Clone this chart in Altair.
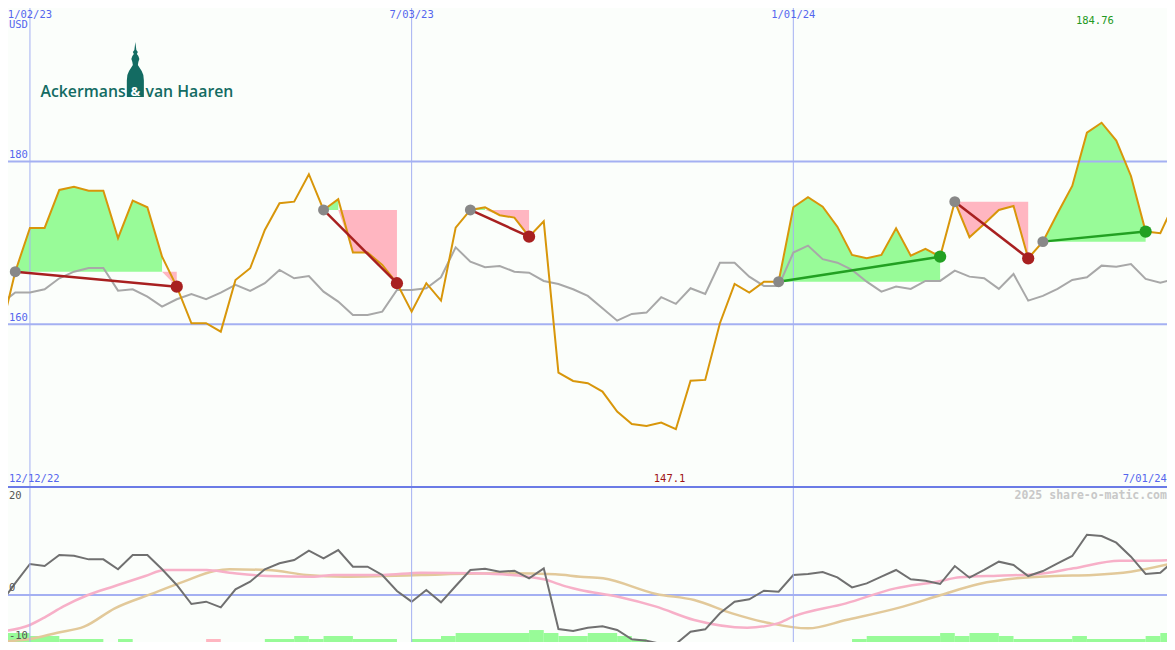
import altair as alt
import pandas as pd

# ---------------- data ----------------
weeks = list(range(-2, 79))  # week 0 = 1/02/23

price = [158.93, 166.46, 171.83, 171.83, 176.50, 176.90, 176.41, 176.41, 170.57, 175.18,
         174.37, 168.30, 164.62, 160.12, 160.12, 159.09, 165.44, 166.88, 171.58, 174.86,
         175.06, 178.43, 174.04, 175.36, 168.80, 168.80, 167.29, 165.04, 161.55, 165.04,
         162.90, 171.87, 174.04, 174.37, 173.40, 173.10, 170.76, 172.65, 154.05, 153.03,
         152.75, 151.72, 149.26, 147.75, 147.50, 147.91, 147.10, 153.07, 153.16, 160.12,
         164.95, 163.88, 165.23, 165.23, 174.37, 175.60, 174.45, 171.99, 168.51, 168.10,
         168.51, 171.79, 168.43, 169.25, 168.30, 175.06, 170.69, 172.32, 174.04, 174.53,
         168.10, 170.15, 173.64, 176.99, 183.54, 184.76, 182.56, 178.22, 171.38, 171.18,
         175.06]

bench = [162.50, 163.90, 163.90, 164.30, 165.65, 166.46, 166.90, 166.90, 164.13, 164.30,
         163.40, 162.16, 163.07, 163.72, 163.07, 163.88, 164.83, 164.09, 165.04, 166.67,
         165.65, 165.93, 164.00, 162.78, 161.14, 161.14, 161.55, 164.21, 164.21, 164.42,
         165.77, 169.45, 167.69, 167.00, 167.16, 166.46, 166.34, 165.32, 164.95, 164.30,
         163.48, 161.97, 160.44, 161.27, 161.43, 163.32, 162.50, 164.42, 163.72, 167.56,
         167.56, 165.85, 164.70, 164.70, 168.80, 169.66, 167.99, 167.56, 166.67, 165.23,
         164.00, 164.62, 164.34, 165.32, 165.32, 166.59, 165.85, 165.65, 164.34, 166.18,
         162.90, 163.48, 164.34, 165.44, 165.77, 167.20, 167.07, 167.40, 165.57, 165.11,
         165.57]

osc = [-1.51, 2.15, 5.64, 5.27, 7.27, 7.15, 6.48, 6.48, 4.67, 7.27,
       7.27, 4.67, 1.82, -1.64, -1.21, -2.24, 1.03, 2.42, 4.67, 5.76,
       6.36, 8.06, 6.67, 8.18, 5.15, 5.15, 3.64, 0.73, -1.21, 0.91,
       -1.33, 1.64, 4.55, 4.79, 4.24, 4.42, 3.03, 4.85, -6.18, -6.55,
       -5.94, -5.70, -6.36, -8.06, -8.30, -8.91, -8.91, -6.67, -6.24, -3.33,
       -1.21, -0.79, 0.79, 0.61, 3.64, 3.82, 4.18, 3.21, 1.39, 2.12,
       3.33, 4.55, 2.85, 2.61, 2.00, 5.27, 3.15, 4.55, 6.06, 5.45,
       3.45, 4.36, 5.76, 7.09, 10.97, 10.73, 9.52, 6.97, 3.82, 4.06,
       6.36]

pink_w = [-2.04, 0, 1.09, 2.25, 3.95, 5.79, 7.86, 9.17, 12.04, 13.6, 16.2, 19.34, 20.65,
          24.04, 26.65, 30.3, 33.94, 35.0, 36.56, 37.48, 40.07, 42.66, 45.25, 48.86,
          50.93, 51.97, 55.59, 58.95, 61.79, 63.35, 65.94, 68.52, 71.08, 74.22, 76.26, 78.0]
pink_v = [-6.67, -5.45, -3.94, -2.12, 0.0, 1.64, 3.45, 4.55, 4.55, 4.06, 3.45, 3.33, 3.64,
          3.64, 4.06, 3.94, 3.33, 2.85, 1.52, 0.91, -0.30, -2.12, -4.55, -5.94,
          -5.15, -3.94, -1.52, 1.21, 2.42, 3.21, 3.52, 3.76, 4.85, 6.24, 6.24, 6.36]

tan_w = [-2.04, 0, 1.87, 3.69, 5.78, 8.38, 10.47, 12.56, 13.6, 16.22, 18.82, 21.43, 24.04,
         26.65, 31.86, 35.78, 37.48, 39.04, 42.66, 45.25, 47.83, 50.42, 53.0, 55.59,
         59.47, 62.05, 64.64, 67.23, 69.82, 72.4, 74.99, 78.0]
tan_v = [-8.48, -8.0, -6.85, -5.76, -2.42, 0.30, 2.42, 4.36, 4.67, 4.55, 3.64, 3.33, 3.45,
         3.64, 3.94, 3.76, 3.33, 3.03, 0.18, -0.91, -3.33, -5.15, -6.06, -4.55,
         -2.12, 0.0, 2.0, 3.03, 3.45, 3.64, 4.24, 5.88]

trade_start = [-1, 20, 30, 51, 63, 69]
trade_end = [10, 25, 34, 62, 68, 76]

bar_start = [-2.04, 0, 2, 6, 12, 16, 18, 19, 20, 22, 26, 28, 29, 34, 35, 36, 38, 40, 41,
             56, 57, 62, 63, 64, 66, 67, 71, 72, 76, 77]
bar_end = [0, 2, 5, 7, 13, 18, 19, 20, 22, 25, 28, 29, 34, 35, 36, 38, 40, 41, 42,
           57, 62, 63, 64, 66, 67, 71, 72, 76, 77, 78]
bar_level = [3, 2, 1, 1, 1, 1, 2, 1, 2, 1, 1, 2, 3, 4, 3, 2, 3, 2, 1,
             1, 2, 3, 2, 3, 2, 1, 2, 1, 2, 3]
bar_kind = ["up"] * 4 + ["down"] + ["up"] * 25

grid_weeks = [0, 26, 52]
date_labels = ["1/02/23", "7/03/23", "1/01/24"]
price_grid = [160, 180]

# ---------------- styling ----------------
BG = "#fbfefb"
GRID = "#a4b0f2"
SEP = "#6b7be6"
BLUE_TXT = "#5566ee"
ORANGE = "#d8960a"
GREY = "#a8a8a8"
UP_FILL = "#98fb98"
DOWN_FILL = "#ffb6c1"
TEAL = "#136b62"
MONO = "DejaVu Sans Mono"

W, H, SPLIT = 1175, 650, 487
xs = alt.Scale(domain=[-2.04, 78.0], nice=False, zero=False)
ys_top = alt.Scale(domain=[140.0, 199.84], range=[SPLIT, 0], nice=False, zero=False)
ys_bot = alt.Scale(domain=[-10.0, 19.64], range=[H, SPLIT], nice=False, zero=False)


def X(f):
    return alt.X(f, type="quantitative", scale=xs, axis=None)


def YT(f):
    return alt.Y(f, type="quantitative", scale=ys_top, axis=None)


def YB(f):
    return alt.Y(f, type="quantitative", scale=ys_bot, axis=None)


# ---------------- tables ----------------
series = pd.DataFrame({"w": weeks, "price": price, "bench": bench, "osc": osc})
pmap = dict(zip(weeks, price))

up_rows, down_rows, tl_rows, start_rows, end_rows = [], [], [], [], []
for t, (s, e) in enumerate(zip(trade_start, trade_end)):
    entry = pmap[s]
    win = pmap[e] >= entry
    col = "#22a022" if win else "#a82020"
    for w in range(s, e + 1):
        p = pmap[w]
        down_rows.append({"t": t, "w": w, "v": min(p, entry), "e": entry})
        if p >= entry:
            up_rows.append({"t": t, "w": w, "v": p, "e": entry})
    tl_rows.append({"t": t, "w": s, "v": entry, "c": col})
    tl_rows.append({"t": t, "w": e, "v": pmap[e], "c": col})
    start_rows.append({"w": s, "v": entry})
    end_rows.append({"w": e, "v": pmap[e], "c": col})

up_df = pd.DataFrame(up_rows)
down_df = pd.DataFrame(down_rows)
tl_df = pd.DataFrame(tl_rows)
start_df = pd.DataFrame(start_rows)
end_df = pd.DataFrame(end_rows)

pink_df = pd.DataFrame({"w": pink_w, "v": pink_v})
tan_df = pd.DataFrame({"w": tan_w, "v": tan_v})
BAR_STEP = 3 / 5.5
BAR_BASE = -8.55  # lowest value still inside the visible page area
bars_df = pd.DataFrame({
    "a": bar_start, "b": bar_end,
    "lo": [BAR_BASE] * len(bar_start),
    "hi": [BAR_BASE + l * BAR_STEP for l in bar_level],
    "c": [UP_FILL if k == "up" else DOWN_FILL for k in bar_kind],
})

vgrid_df = pd.DataFrame({"w": grid_weeks})
hgrid_df = pd.DataFrame({"v": price_grid})

# annotation positions (data coordinates)
dates_df = pd.DataFrame({"w": grid_weeks, "v": [198.67] * 3, "t": date_labels})
top_left_df = pd.DataFrame({"w": [-1.43], "v": [196.77], "t": ["USD"]})
grid_lbl_df = pd.DataFrame({"w": [-1.43, -1.43], "v": [180.15, 160.15], "t": ["180", "160"]})
bottom_dates_l = pd.DataFrame({"w": [-1.43], "v": [140.98], "t": ["12/12/22"]})
bottom_dates_r = pd.DataFrame({"w": [77.45], "v": [140.98], "t": ["7/01/24"]})
max_df = pd.DataFrame({"w": [72.54], "v": [197.26], "t": ["184.76"]})
min_df = pd.DataFrame({"w": [43.57], "v": [140.98], "t": ["147.1"]})

logo_l = pd.DataFrame({"w": [6.52], "v": [187.92], "t": ["Ackermans"]})
logo_amp = pd.DataFrame({"w": [7.18], "v": [188.05], "t": ["&"]})
logo_r = pd.DataFrame({"w": [7.87], "v": [187.92], "t": ["van Haaren"]})
tower_df = pd.DataFrame({"w": [7.18], "v": [191.3]})
TOWER = ("M0,-1 L0.036,-0.709 L0.091,-0.636 L0.055,-0.564 L0.109,-0.491 L0.145,-0.382 "
         "L0.109,-0.273 L0.091,-0.164 L0.16,-0.055 L0.23,0.055 L0.29,0.2 L0.31,0.4 L0.31,1 "
         "L-0.31,1 L-0.31,0.4 L-0.29,0.2 L-0.23,0.055 L-0.16,-0.055 L-0.091,-0.164 L-0.109,-0.273 "
         "L-0.145,-0.382 L-0.109,-0.491 L-0.055,-0.564 L-0.091,-0.636 L-0.036,-0.709 Z")

osc_lbl_df = pd.DataFrame({"w": [-1.43, -1.43, -1.43], "v": [18.0, 1.28, -7.45],
                           "t": ["20", "0", "-10"]})
wm_df = pd.DataFrame({"w": [77.45], "v": [18.0], "t": ["2025 share-o-matic.com"]})


def text_layer(df, enc_y, color, align="left", size=10.5, font=MONO, weight="normal",
               baseline="middle"):
    return alt.Chart(df).mark_text(align=align, baseline=baseline, color=color,
                                   fontSize=size, font=font, fontWeight=weight).encode(
        x=X("w"), y=enc_y("v"), text="t:N")


layers = [
    # lower panel
    alt.Chart(bars_df).mark_rect(opacity=1).encode(
        x=X("a"), x2="b", y=YB("lo"), y2="hi", color=alt.Color("c:N", scale=None)),
    alt.Chart(pd.DataFrame({"v": [0.0]})).mark_rule(color=GRID, strokeWidth=2).encode(
        y=YB("v")),
    alt.Chart(tan_df).mark_line(color="#e2c99a", strokeWidth=2.5, interpolate="monotone").encode(
        x=X("w"), y=YB("v")),
    alt.Chart(pink_df).mark_line(color="#f7b0c8", strokeWidth=2.5, interpolate="monotone").encode(
        x=X("w"), y=YB("v")),
    alt.Chart(series).mark_line(color="#707070", strokeWidth=2).encode(x=X("w"), y=YB("osc")),
    text_layer(osc_lbl_df, YB, "#555555"),
    text_layer(wm_df, YB, "#c8c8c8", align="right", size=11.5, weight="bold"),
    # upper panel
    alt.Chart(up_df).mark_area(color=UP_FILL, opacity=1).encode(
        x=X("w"), y=YT("v"), y2="e", detail="t:N"),
    alt.Chart(down_df).mark_area(color=DOWN_FILL, opacity=1).encode(
        x=X("w"), y=YT("v"), y2="e", detail="t:N"),
    alt.Chart(vgrid_df).mark_rule(color=GRID, strokeWidth=1).encode(x=X("w")),
    alt.Chart(hgrid_df).mark_rule(color=GRID, strokeWidth=2).encode(y=YT("v")),
    alt.Chart(series).mark_line(color=GREY, strokeWidth=2).encode(x=X("w"), y=YT("bench")),
    alt.Chart(series).mark_line(color=ORANGE, strokeWidth=2).encode(x=X("w"), y=YT("price")),
    alt.Chart(tl_df).mark_line(strokeWidth=2.5).encode(
        x=X("w"), y=YT("v"), detail="t:N", color=alt.Color("c:N", scale=None)),
    alt.Chart(start_df).mark_circle(size=120, color="#888888", opacity=1).encode(
        x=X("w"), y=YT("v")),
    alt.Chart(end_df).mark_circle(size=150, opacity=1).encode(
        x=X("w"), y=YT("v"), color=alt.Color("c:N", scale=None)),
    alt.Chart(pd.DataFrame({"v": [140.0]})).mark_rule(color=SEP, strokeWidth=2).encode(
        y=YT("v")),
    text_layer(dates_df, YT, BLUE_TXT, align="center", baseline="top"),
    text_layer(top_left_df, YT, BLUE_TXT),
    text_layer(grid_lbl_df, YT, BLUE_TXT, baseline="bottom"),
    text_layer(bottom_dates_l, YT, BLUE_TXT),
    text_layer(bottom_dates_r, YT, BLUE_TXT, align="right"),
    text_layer(max_df, YT, "#229922", align="center"),
    text_layer(min_df, YT, "#a01515", align="center"),
    alt.Chart(tower_df).mark_point(shape=TOWER, size=3025, filled=True, color=TEAL,
                                   opacity=1, strokeWidth=0).encode(x=X("w"), y=YT("v")),
    text_layer(logo_l, YT, TEAL, align="right", size=15.8, font="Open Sans", weight=600,
               baseline="alphabetic"),
    text_layer(logo_amp, YT, "#ffffff", align="center", size=13, font="Open Sans",
               weight=700, baseline="alphabetic"),
    text_layer(logo_r, YT, TEAL, align="left", size=15.8, font="Open Sans", weight=600,
               baseline="alphabetic"),
]

chart = alt.layer(*layers).resolve_scale(y="independent").properties(
    width=W, height=H,
    autosize=alt.AutoSizeParams(type="none"),
    padding={"left": -8, "top": -8, "right": -8, "bottom": -8},
    background=BG,
).configure_view(stroke=None)

chart.save("out.html", embed_options={"renderer": "svg", "actions": False})
